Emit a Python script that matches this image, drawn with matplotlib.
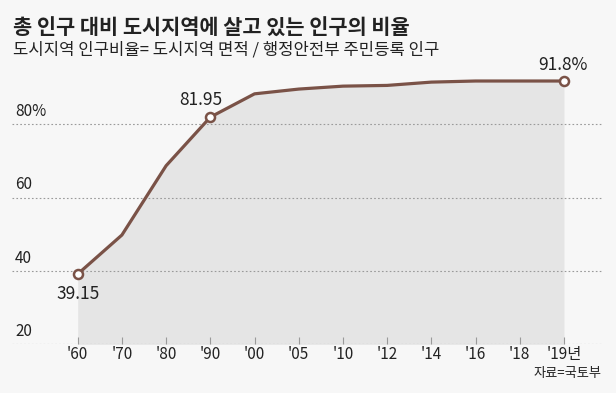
import matplotlib
matplotlib.use("Agg")
import matplotlib.pyplot as plt
from matplotlib.transforms import blended_transform_factory

plt.rcParams['font.family'] = ['Noto Sans CJK KR', 'DejaVu Sans']

years = ["'60", "'70", "'80", "'90", "'00", "'05", "'10", "'12", "'14", "'16", "'18", "'19년"]
ratio = [39.15, 49.8, 68.7, 81.95, 88.3, 89.6, 90.4, 90.6, 91.5, 91.8, 91.8, 91.8]
yticks = [20, 40, 60, 80]
ytick_labels = ["20", "40", "60", "80%"]
labeled = {0: "39.15", 3: "81.95", 11: "91.8%"}

title = "총 인구 대비 도시지역에 살고 있는 인구의 비율"
subtitle = "도시지역 인구비율= 도시지역 면적 / 행정안전부 주민등록 인구"
source = "자료=국토부"

W, H = 616, 393
bg = "#f7f7f7"
line_c = "#7a5247"
fill_c = "#e5e5e5"
grid_c = "#9a9a9a"
text_c = "#222222"

fig = plt.figure(figsize=(W / 100, H / 100), dpi=100, facecolor=bg)

left_px, right_px, bottom_px, top_px = 12, 602, 344.3, 60
ax = fig.add_axes([left_px / W, 1 - bottom_px / H, (right_px - left_px) / W, (bottom_px - top_px) / H])
ax.set_facecolor(bg)
for s in ax.spines.values():
    s.set_visible(False)

x = list(range(len(years)))
ax.set_xlim(-1.486, 11.86)
ax.set_ylim(20, 20 + (bottom_px - top_px) / 3.667)

ax.fill_between(x, ratio, 20, color=fill_c, linewidth=0, zorder=1)

for v, lab in zip(yticks, ytick_labels):
    ax.axhline(v, color=grid_c, linewidth=0.8, linestyle=(0, (1.5, 2)), zorder=2)
    ax.text(0.005, v + 1.2, lab, transform=blended_transform_factory(ax.transAxes, ax.transData),
            ha='left', va='bottom', fontsize=11, color=text_c)

ax.plot(x, ratio, color=line_c, linewidth=2.3, zorder=3, solid_joinstyle='round')
for i, lab in labeled.items():
    ax.plot(x[i], ratio[i], marker='o', markersize=6.5, markerfacecolor='white',
            markeredgecolor=line_c, markeredgewidth=1.8, zorder=4)

ax.annotate(labeled[0], (x[0], ratio[0]), xytext=(0, -8), textcoords='offset points',
            ha='center', va='top', fontsize=12.5, color=text_c)
ax.annotate(labeled[3], (x[3], ratio[3]), xytext=(-7, 6), textcoords='offset points',
            ha='center', va='bottom', fontsize=12.5, color=text_c)
ax.annotate(labeled[11], (x[11], ratio[11]), xytext=(-1, 5), textcoords='offset points',
            ha='center', va='bottom', fontsize=12.5, color=text_c)

ax.set_xticks(x)
ax.set_xticklabels(years, fontsize=11, color=text_c)
ax.tick_params(axis='x', direction='in', length=5, width=0.8, color=grid_c, pad=1)
ax.tick_params(axis='y', left=False, labelleft=False)

fig.text(13 / W, 1 - 28 / H, title, fontsize=15, fontweight='bold', color=text_c, ha='left', va='center')
fig.text(13 / W, 1 - 50 / H, subtitle, fontsize=12, color=text_c, ha='left', va='center')
fig.text(602 / W, 1 - 374 / H, source, fontsize=9.5, color=text_c, ha='right', va='center')

fig.savefig("out.png", dpi=100, facecolor=bg)
